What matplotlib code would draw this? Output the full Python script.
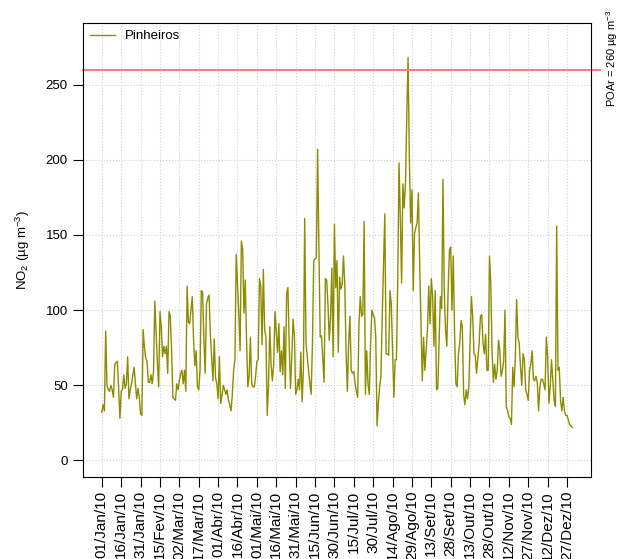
"""
Série diária de NO2 - Pinheiros 2010
"""
import matplotlib
matplotlib.use('Agg')
import matplotlib.pyplot as plt
import numpy as np

plt.rcParams['font.family'] = ['Liberation Sans', 'DejaVu Sans']
plt.rcParams['mathtext.fontset'] = 'custom'
plt.rcParams['mathtext.rm'] = 'Liberation Sans'
plt.rcParams['mathtext.it'] = 'Liberation Sans:italic'

# médias diárias de NO2 (µg m-3), por mês
jan = [32, 37, 33, 86, 50, 47, 46, 50, 47, 42, 64, 65, 66, 48, 28, 46, 47, 57, 48, 51,
       69, 41, 47, 51, 57, 62, 51, 41, 48, 42, 31]
fev = [30, 87, 75, 68, 66, 52, 52, 57, 51, 59, 106, 85, 65, 49, 99, 89, 69, 76, 71, 76,
       58, 99, 96, 73, 42, 41, 40, 51]
mar = [47, 53, 58, 60, 51, 60, 46, 116, 92, 91, 100, 109, 80, 63, 73, 49, 47, 60, 113, 112,
       80, 58, 104, 108, 110, 84, 68, 53, 81, 55, 51]
abr = [41, 69, 38, 43, 50, 47, 44, 47, 40, 37, 33, 44, 60, 67, 137, 118, 98, 73, 146, 140,
       98, 120, 80, 49, 56, 82, 51, 49, 49, 56]
mai = [66, 67, 121, 116, 77, 127, 87, 82, 30, 51, 89, 64, 53, 64, 99, 85, 72, 91, 59, 73,
       57, 89, 48, 111, 115, 78, 48, 69, 94, 84, 44]
jun = [47, 54, 47, 72, 39, 60, 161, 78, 69, 60, 51, 44, 78, 133, 134, 135, 207, 140, 82, 83,
       67, 52, 121, 120, 104, 80, 95, 128, 69, 157]
jul = [115, 133, 72, 122, 114, 117, 136, 118, 73, 46, 78, 96, 60, 58, 59, 51, 46, 42, 91, 109,
       96, 97, 159, 44, 73, 51, 44, 78, 100, 97, 95]
ago = [82, 23, 38, 49, 56, 96, 130, 164, 71, 71, 70, 113, 104, 73, 42, 67, 67, 120, 198, 162,
       118, 184, 168, 185, 229, 268, 200, 158, 180, 113, 151]
set_ = [155, 158, 178, 130, 91, 53, 82, 60, 73, 87, 116, 91, 121, 109, 76, 113, 47, 48, 78, 109,
        101, 187, 113, 87, 76, 113, 140, 142, 100, 136]
out = [84, 51, 49, 71, 78, 93, 89, 44, 37, 47, 41, 49, 80, 109, 96, 71, 70, 58, 68, 78,
       96, 97, 78, 71, 84, 60, 60, 136, 118, 73, 52]
nov = [64, 54, 60, 80, 73, 56, 60, 66, 100, 36, 33, 29, 28, 24, 62, 49, 68, 107, 82, 78,
       62, 50, 71, 67, 47, 44, 40, 60, 64, 73]
dez = [54, 53, 56, 52, 33, 49, 54, 54, 51, 47, 82, 69, 38, 49, 67, 53, 40, 36, 156, 60,
       62, 40, 33, 42, 33, 30, 30, 27, 24, 23, 22]

xtick_labels = ['01/Jan/10', '16/Jan/10', '31/Jan/10', '15/Fev/10', '02/Mar/10', '17/Mar/10',
                '01/Abr/10', '16/Abr/10', '01/Mai/10', '16/Mai/10', '31/Mai/10', '15/Jun/10',
                '30/Jun/10', '15/Jul/10', '30/Jul/10', '14/Ago/10', '29/Ago/10', '13/Set/10',
                '28/Set/10', '13/Out/10', '28/Out/10', '12/Nov/10', '27/Nov/10', '12/Dez/10',
                '27/Dez/10']
yticks = [0, 50, 100, 150, 200, 250]
padrao = 260  # POAr

no2 = np.array(jan + fev + mar + abr + mai + jun + jul + ago + set_ + out + nov + dez)
dias = np.arange(len(no2))
xticks = np.arange(0, 15 * len(xtick_labels), 15)

fig = plt.figure(figsize=(6.19, 5.59), dpi=100)
ax = fig.add_axes([83 / 619, 1 - 477 / 559, (591 - 83) / 619, (477 - 23) / 559])

ax.plot(dias, no2, color='#8c8c00', linewidth=1.0, label='Pinheiros')
ax.axhline(padrao, xmin=0, xmax=1.018, color='#f77b7b', linewidth=1.4, clip_on=False)

ax.set_xlim(-0.04 * 364, 364 * 1.04)
ax.set_ylim(-11, 291)

ax.set_xticks(xticks)
ax.set_xticklabels(xtick_labels, rotation=90, va='top', ha='center')
ax.set_yticks(yticks)
ax.tick_params(axis='both', length=7, width=0.8, direction='out')
ax.tick_params(axis='y', labelsize=9.5, pad=4)
ax.tick_params(axis='x', labelsize=11, pad=3)

for x in xticks:
    ax.axvline(x, color='#d0d0d0', linestyle=':', linewidth=0.8, zorder=0)
for y in yticks:
    ax.axhline(y, color='#d0d0d0', linestyle=':', linewidth=0.8, zorder=0)

for s in ax.spines.values():
    s.set_linewidth(0.8)

ax.set_ylabel('NO$_2$ (µg m$^{-3}$)', fontsize=9.5, labelpad=10)

fig.text(612 / 619, 1 - 58 / 559, 'POAr = 260 µg m$^{-3}$', rotation=90,
         ha='center', va='center', fontsize=8)

ax.legend(loc='upper left', frameon=False, fontsize=9.5, handlelength=1.9,
          handletextpad=0.75, borderaxespad=0.25, borderpad=0.3)

fig.savefig('out.png', dpi=100)
plt.close(fig)
